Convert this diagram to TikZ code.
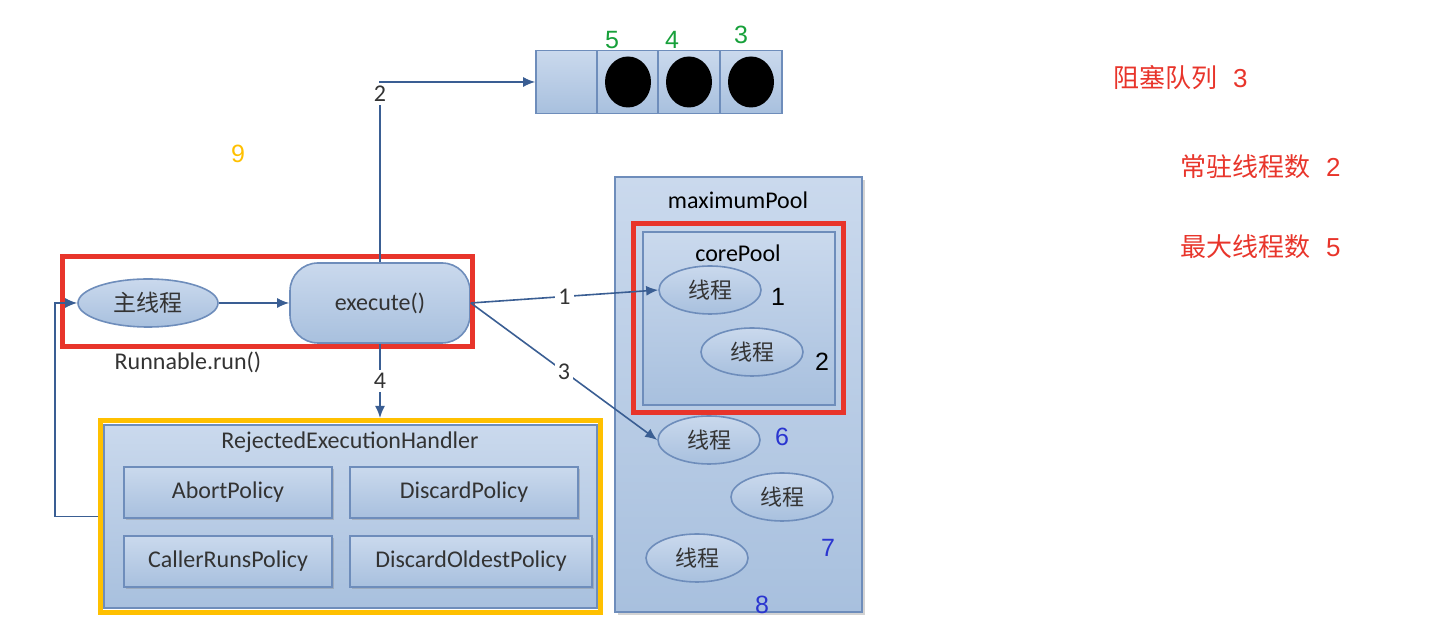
\documentclass[tikz,border=0pt]{standalone}
\usepackage{fontspec}
\setmainfont{Carlito}
\newfontfamily\cjk{Noto Sans CJK SC}
\newfontfamily\numfont{Liberation Sans}
\usetikzlibrary{arrows.meta,shapes.geometric,shadows}
\definecolor{boxtop}{HTML}{CAD9ED}
\definecolor{boxbottom}{HTML}{A8C0DE}
\definecolor{boxline}{HTML}{6E8DBB}
\definecolor{flowblue}{HTML}{3A5E93}
\definecolor{markred}{HTML}{E8352B}
\definecolor{markorange}{HTML}{FFC000}
\definecolor{markgreen}{HTML}{17A03A}
\definecolor{markblue}{HTML}{2A35D0}
\definecolor{labelgray}{HTML}{333333}

\begin{document}
\begin{tikzpicture}[x=0.5pt,y=-0.5pt]
					\tikzstyle{every node}+=[inner sep=0pt,font=\fontsize{12}{14}\selectfont]
					\tikzstyle{bluebox}=[draw=boxline,line width=0.8pt,top color=boxtop,bottom color=boxbottom]
					\tikzstyle{policy}=[bluebox,minimum height=25.5pt,text=labelgray,drop shadow={opacity=0.35,shadow xshift=1pt,shadow yshift=-1pt}]
					\tikzstyle{thread}=[bluebox,ellipse,minimum width=51pt,minimum height=24pt,font=\cjk\fontsize{11}{13}\selectfont,text=labelgray]
					\tikzstyle{cell}=[bluebox,minimum width=31pt,minimum height=31.5pt]
					\tikzstyle{ball}=[ellipse,fill=black,minimum width=23pt,minimum height=25.5pt]
					\tikzstyle{flow}=[flowblue,line width=0.8pt,-{Latex[length=6pt,width=5pt]}]
					\tikzstyle{flowlbl}=[fill=white,inner sep=1.5pt,text=labelgray]
					\tikzstyle{marknum}=[font=\numfont\fontsize{12.5}{14}\selectfont]
					\tikzstyle{note}=[text=markred,font=\cjk\fontsize{13}{15}\selectfont]
					\useasboundingbox (0,0) rectangle (1442,635);
					\node[cell] (q0) at (567,82) {};
					\node[cell] (q1) at (628,82) {};
					\node[cell] (q2) at (689,82) {};
					\node[cell] (q3) at (751,82) {};
					\node[ball] (b1) at (q1) {};
					\node[ball] (b2) at (q2) {};
					\node[ball] (b3) at (q3) {};
					\node[marknum,text=markgreen] (n5) at (612,40) {5};
					\node[marknum,text=markgreen] (n4) at (672,40) {4};
					\node[marknum,text=markgreen] (n3) at (741,35) {3};
					\node[marknum,text=markorange] (n9) at (238,154) {9};
					\node[bluebox,minimum width=123.5pt,minimum height=217.5pt,drop shadow={opacity=0.35,shadow xshift=1.5pt,shadow yshift=-1.5pt}] (maxpool) at (738.5,394.5) {};
					\node (maxlbl) at (738,200) {maximumPool};
					\node[bluebox,minimum width=96pt,minimum height=86.5pt] (corepool) at (739,318.5) {};
					\node (corelbl) at (738,253) {corePool};
					\node[draw=markred,line width=2.5pt,minimum width=105pt,minimum height=94.5pt] (coreframe) at (738,318.5) {};
					\node[thread] (t1) at (710,290) {线程};
					\node[thread] (t2) at (752,352) {线程};
					\node[thread] (t6) at (709,440) {线程};
					\node[thread] (t7) at (782,497) {线程};
					\node[thread] (t8) at (697,558) {线程};
					\node[marknum] (n1) at (778,297) {1};
					\node[marknum] (n2) at (822,362) {2};
					\node[marknum,text=markblue] (n6) at (782,437) {6};
					\node[marknum,text=markblue] (n7) at (828,548) {7};
					\node[marknum,text=markblue] (n8) at (762,605) {8};
					\node[thread,minimum width=70pt,font=\cjk\fontsize{11.5}{13}\selectfont] (main) at (148,303) {主线程};
					\node[bluebox,rounded corners=14pt,minimum width=90pt,minimum height=40pt,text=labelgray] (exec) at (380,303) {execute()};
					\node[draw=markred,line width=2.5pt,minimum width=205pt,minimum height=45pt] (mainframe) at (267,302) {};
					\node[text=labelgray] (runlbl) at (188,362) {Runnable.run()};
					\node[draw=markorange,line width=2.5pt,minimum width=250pt,minimum height=96pt] (rejframe) at (350.5,516.5) {};
					\node[bluebox,minimum width=246.5pt,minimum height=91.5pt] (rej) at (350.5,516.5) {};
					\node[text=labelgray] (rejlbl) at (350,442) {RejectedExecutionHandler};
					\node[policy,minimum width=104pt] (abort) at (228,492.5) {AbortPolicy};
					\node[policy,minimum width=114pt] (discard) at (464,492.5) {DiscardPolicy};
					\node[policy,minimum width=104pt] (caller) at (228,561.5) {CallerRunsPolicy};
					\node[policy,minimum width=121pt] (oldest) at (471,561.5) {DiscardOldestPolicy};
					\draw[flow] (main) -- (exec);
					\draw[flow] (exec.north) -- (exec.north |- q0.west) -- (q0.west);
					\node[flowlbl] (l2) at (380,94) {2};
					\draw[flow] (exec.east) -- node[flowlbl] (l1) {1} (t1.west);
					\draw[flow] (exec.east) -- node[flowlbl] (l3) {3} (t6.west);
					\draw[flow] (exec.south) -- node[flowlbl] (l4) {4} (exec.south |- rejframe.north);
					\coordinate (back) at (55,0);
					\draw[flow] (rejframe.west) -| (back |- main.west) -- (main.west);
					\node[note,anchor=west] (queuenote) at (1113,78) {阻塞队列\hspace{0.6em}{\numfont 3}};
					\node[note,anchor=west] (corenote) at (1180,167) {常驻线程数\hspace{0.6em}{\numfont 2}};
					\node[note,anchor=west] (maxnote) at (1180,247) {最大线程数\hspace{0.6em}{\numfont 5}};
					\end{tikzpicture}
\end{document}
